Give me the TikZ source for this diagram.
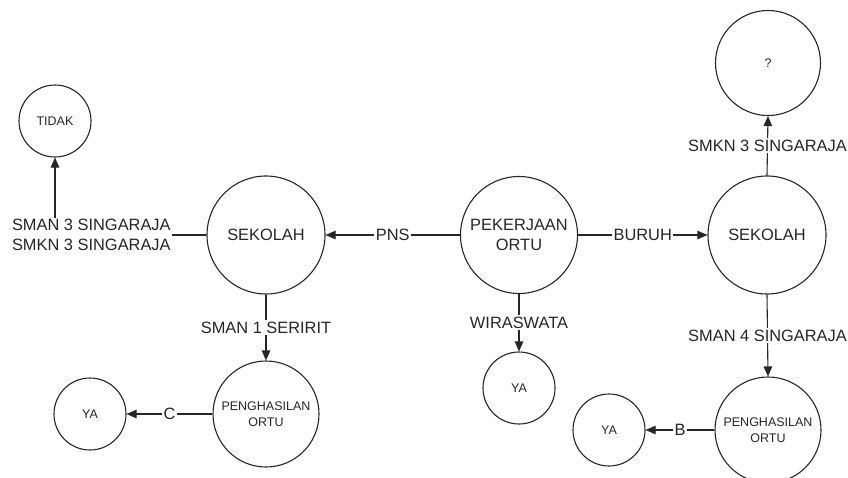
\documentclass[tikz,border=0pt]{standalone}
\usepackage{fontspec}
\setmainfont{Liberation Sans}
\usetikzlibrary{arrows.meta}
\begin{document}
\begin{tikzpicture}[x=1pt,y=-1pt,
  bigc/.style={circle,draw=black!85,line width=1.1pt,inner sep=0pt,align=center,font=\fontsize{16.4}{19.5}\selectfont,text=black!85},
  smallc/.style={circle,draw=black!85,line width=1.1pt,inner sep=0pt,align=center,font=\fontsize{12.5}{16.5}\selectfont,text=black!85},
  conn/.style={draw=black!85,line width=1.1pt,-{Triangle[length=10pt,width=8.5pt]}},
  lbl/.style={fill=white,inner sep=1.5pt,font=\fontsize{16.4}{19.5}\selectfont,text=black!85,align=center}]
\useasboundingbox (0,0) rectangle (848,477);
\clip (0,0) rectangle (848,477);
% nodes
\node[bigc,minimum size=117pt] (pek) at (519,235) {PEKERJAAN\\ORTU};
\node[bigc,minimum size=118pt] (sekL) at (266,235) {SEKOLAH};
\node[bigc,minimum size=118pt] (sekR) at (767,235) {SEKOLAH};
\node[smallc,minimum size=72pt] (tidak) at (55,121) {TIDAK};
\node[smallc,minimum size=105pt] (q) at (768,63) {?};
\node[smallc,minimum size=106pt] (pengL) at (266,414) {PENGHASILAN\\ORTU};
\node[smallc,minimum size=106pt] (pengR) at (768,430) {PENGHASILAN\\ORTU};
\node[smallc,minimum size=72pt] (yaL) at (90,414) {YA};
\node[smallc,minimum size=72pt] (yaM) at (519,388) {YA};
\node[smallc,minimum size=72pt] (yaR) at (609,430) {YA};
% connectors
\draw[conn] (pek.west) -- node[lbl] {PNS} (sekL.east);
\draw[conn] (pek.east) -- node[lbl] {BURUH} (sekR.west);
\draw[conn] (pek.south) -- node[lbl] {WIRASWATA} (yaM.north);
\draw[conn] (sekL.west) -| node[lbl,pos=0.38] {SMAN 3 SINGARAJA\\SMKN 3 SINGARAJA} (tidak.south);
\draw[conn] (sekL.south) -- node[lbl] {SMAN 1 SERIRIT} (pengL.north);
\draw[conn] (pengL.west) -- node[lbl] {C} (yaL.east);
\draw[conn] (sekR.north) -- node[lbl] {SMKN 3 SINGARAJA} (q.south);
\draw[conn] (sekR.south) -- node[lbl] {SMAN 4 SINGARAJA} (pengR.north);
\draw[conn] (pengR.west) -- node[lbl] {B} (yaR.east);
\end{tikzpicture}
\end{document}
